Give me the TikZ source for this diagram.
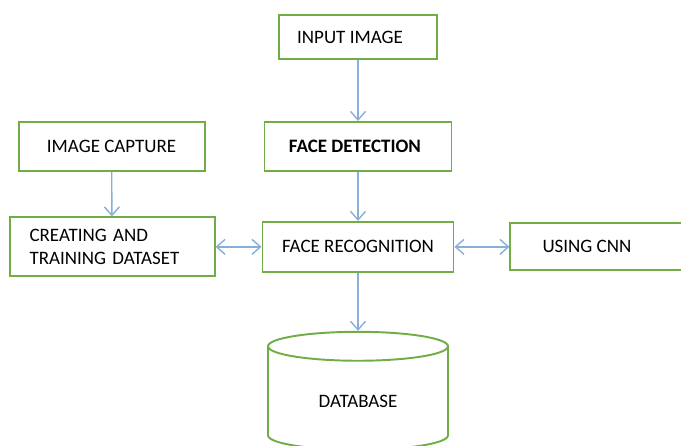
\documentclass[tikz,border=0pt]{standalone}
\usepackage{fontspec}
\setmainfont{Carlito}
\usepackage{tikz}
\usetikzlibrary{positioning}
\usetikzlibrary{shapes.geometric}
\usetikzlibrary{arrows.meta}
\definecolor{boxgreen}{RGB}{112,173,71}
\definecolor{arrowblue}{RGB}{135,175,215}

\begin{document}
\begin{tikzpicture}[
    box/.style={draw=boxgreen, line width=1.1pt, rectangle, inner sep=0pt, font=\fontsize{10.8}{13}\selectfont},
    flow/.style={draw=arrowblue, line width=0.8pt, -{Straight Barb[length=0.17cm,width=0.3cm]}},
    both/.style={flow, {Straight Barb[length=0.17cm,width=0.3cm]}-{Straight Barb[length=0.17cm,width=0.3cm]}}
]
    \useasboundingbox (0,0) rectangle (13.62,-8.92);

    \node [box, minimum width=3.16cm, minimum height=0.88cm] (input) at (7.16,-0.74) {INPUT IMAGE\kern0.32cm};
    \node [box, minimum width=3.74cm, minimum height=0.98cm, below=1.22cm of input, font=\fontsize{10.8}{13}\selectfont\bfseries] (detect) {FACE DETECTION\kern0.12cm};
    \node [box, minimum width=3.82cm, minimum height=1.0cm, below=0.98cm of detect] (recog) {FACE RECOGNITION};
    \node [box, minimum width=3.72cm, minimum height=0.98cm, left=1.16cm of detect] (capture) {IMAGE CAPTURE};
    \node [box, text width=3.3cm, inner xsep=0.4cm, minimum height=1.18cm, align=left, left=0.92cm of recog] (dataset) {CREATING AND\\TRAINING DATASET};
    \node [box, minimum width=3.5cm, minimum height=0.94cm, right=1.1cm of recog] (cnn) {USING CNN\kern0.44cm};
    \node [cylinder, shape border rotate=90, draw=boxgreen, line width=1.1pt, minimum width=3.6cm, minimum height=2.36cm, aspect=0.32, below=1.16cm of recog, font=\fontsize{10.8}{13}\selectfont] (db) {DATABASE};

    \draw [flow] (input) -- (detect);
    \draw [flow] (detect) -- (recog);
    \draw [flow] (capture) -- (dataset);
    \draw [flow] (recog) -- (db);
    \draw [both] (dataset.east) -- (recog.west);
    \draw [both] (recog) -- (cnn);
\end{tikzpicture}
\end{document}
